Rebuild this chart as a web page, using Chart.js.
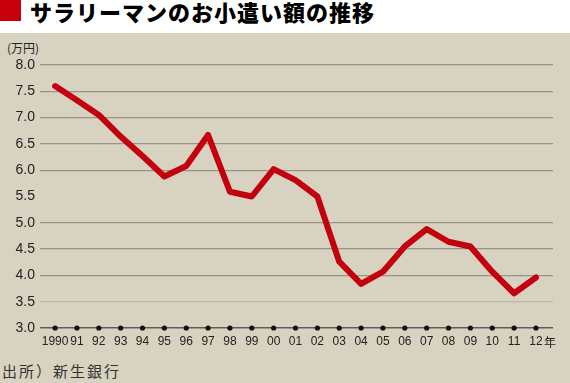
<!DOCTYPE html>
<html><head><meta charset="utf-8">
<script src="https://cdn.jsdelivr.net/npm/chart.js@4"></script>
<style>
html,body{margin:0;padding:0;}
body{width:570px;height:383px;position:relative;overflow:hidden;background:#fff;font-family:"Liberation Sans",Arial,sans-serif;}
#bg{position:absolute;left:0;top:33px;width:570px;height:350px;background:#d8d2c0;}
#sq{position:absolute;left:0;top:0;width:21px;height:21px;background:#c8000e;}
#title{position:absolute;left:30px;top:-2px;font-family:"Noto Sans CJK JP",sans-serif;font-weight:900;font-size:22px;letter-spacing:1px;line-height:26px;color:#000;white-space:nowrap;}
#unit{position:absolute;left:7px;top:40px;font-family:"Noto Sans CJK JP",sans-serif;font-size:12px;color:#222;line-height:16px;}
#src{position:absolute;left:2px;top:361px;font-family:"Noto Sans CJK JP",sans-serif;font-size:15px;letter-spacing:2px;color:#333;line-height:20px;white-space:nowrap;}
#wrap{position:absolute;left:0;top:0;width:570px;height:383px;}
</style></head>
<body>
<div id="bg"></div>
<div id="sq"></div>
<div id="title">サラリーマンのお小遣い額の推移</div>
<div id="unit">(万円)</div>
<div id="src">出所）新生銀行</div>
<div id="wrap"><canvas id="c" width="570" height="383"></canvas></div>
<script>
const years = ["1990","91","92","93","94","95","96","97","98","99","00","01","02","03","04","05","06","07","08","09","10","11","12"];
const allowance = [7.60,7.33,7.05,6.64,6.27,5.88,6.08,6.67,5.59,5.50,6.02,5.81,5.50,4.26,3.84,4.07,4.55,4.88,4.64,4.55,4.07,3.66,3.96];
const yTicks = [3.0,3.5,4.0,4.5,5.0,5.5,6.0,6.5,7.0,7.5,8.0];
const yearSuffix = "年";

const baseDots = {
  id:'baseDots',
  afterDatasetsDraw(chart){
    const {ctx, scales:{x,y}} = chart;
    ctx.save();
    ctx.fillStyle = '#111';
    const py = y.getPixelForValue(yTicks[0]);
    years.forEach((_,i)=>{
      ctx.beginPath();
      ctx.arc(x.getPixelForValue(i), py, 2.6, 0, Math.PI*2);
      ctx.fill();
    });
    ctx.font = '12px "Noto Sans CJK JP", sans-serif';
    ctx.fillStyle = '#222';
    ctx.textBaseline = 'middle';
    ctx.fillText(yearSuffix, x.getPixelForValue(years.length-1)+8, py+14);
    ctx.restore();
  }
};

new Chart(document.getElementById('c'), {
  type:'line',
  data:{datasets:[{
    data: allowance.map((v,i)=>({x:i,y:v})),
    borderColor:'#c4000f',
    borderWidth:6,
    borderJoinStyle:'round',
    borderCapStyle:'round',
    pointRadius:0,
    tension:0,
    fill:false
  }]},
  options:{
    responsive:false,
    animation:false,
    events:[],
    layout:{padding:{left:0,right:17,top:65,bottom:35}},
    plugins:{legend:{display:false},tooltip:{enabled:false},title:{display:false}},
    scales:{
      x:{
        type:'linear',
        min:-0.69,
        max:years.length-1+0.78,
        afterBuildTicks:s=>{s.ticks = years.map((_,i)=>({value:i}));},
        afterFit:s=>{s.height=20;},
        grid:{display:false,drawTicks:false},
        border:{display:false},
        ticks:{
          autoSkip:false,maxRotation:0,padding:6,color:'#222',
          font:{family:'"Liberation Sans", Arial, sans-serif',size:12},
          callback:(v)=>years[v]
        }
      },
      y:{
        min:3,max:8,
        afterBuildTicks:s=>{s.ticks = yTicks.map(v=>({value:v}));},
        afterFit:s=>{s.width=40;},
        border:{display:false},
        grid:{
          drawTicks:false,
          color:c=>{
            const v=c.tick&&c.tick.value;
            if (Math.abs(v-5.5)<1e-6) return 'rgba(0,0,0,0)';
            if (Math.abs(v-3.5)<1e-6) return '#bdb8aa';
            if (Math.abs(v-3.0)<1e-6) return '#5e5c57';
            return '#96938b';
          },
          lineWidth:c=>(c.tick&&Math.abs(c.tick.value-3)<1e-6)?1.6:1.3
        },
        ticks:{
          padding:5,color:'#222',
          font:{family:'"Liberation Sans", Arial, sans-serif',size:14},
          callback:v=>v.toFixed(1)
        }
      }
    }
  },
  plugins:[baseDots]
});
</script>
</body></html>
